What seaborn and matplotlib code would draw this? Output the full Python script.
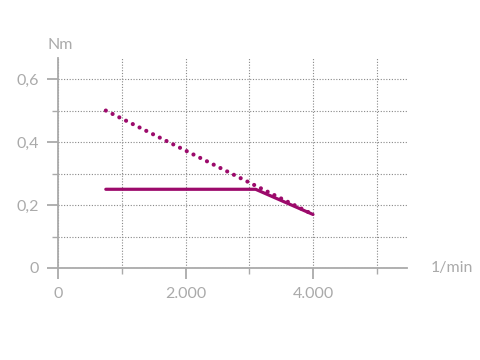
import seaborn as sns
import matplotlib.pyplot as plt
from matplotlib.ticker import MultipleLocator, FuncFormatter

# Kennlinie: Drehmoment über Drehzahl
drehzahl_dauer = [750, 3100, 4000]
moment_dauer = [0.25, 0.25, 0.17]

drehzahl_max = [750, 4000]
moment_max = [0.50, 0.17]

farbe = '#9c0a6b'
grau = '#aaaaaa'

sns.set_style('white')
plt.rcParams['font.family'] = ['Lato', 'DejaVu Sans']

fig = plt.figure(figsize=(4.81, 3.6), dpi=100)
ax = fig.add_axes([0.1206, 0.2556, 0.7256, 0.5833])

sns.lineplot(x=drehzahl_max, y=moment_max, ax=ax, color=farbe, lw=3.0,
             linestyle=(0, (0.01, 1.8)), dash_capstyle='round')
sns.lineplot(x=drehzahl_dauer, y=moment_dauer, ax=ax, color=farbe, lw=2.3)

ax.set_xlim(0, 5475)
ax.set_ylim(0, 0.667)

ax.xaxis.set_major_locator(MultipleLocator(2000))
ax.xaxis.set_minor_locator(MultipleLocator(1000))
ax.yaxis.set_major_locator(MultipleLocator(0.2))
ax.yaxis.set_minor_locator(MultipleLocator(0.1))

ax.xaxis.set_major_formatter(FuncFormatter(lambda v, p: '0' if v == 0 else f'{v:,.0f}'.replace(',', '.')))
ax.yaxis.set_major_formatter(FuncFormatter(lambda v, p: '0' if v == 0 else f'{v:.1f}'.replace('.', ',')))

ax.grid(which='both', color='#888888', linestyle=(0, (1, 1.5)), lw=0.8)
# Gitterlinien bei 0 ausblenden
for gl in ax.get_xgridlines()[:1] + ax.get_ygridlines()[:1]:
    gl.set_visible(False)

for s in ['top', 'right']:
    ax.spines[s].set_visible(False)
for s in ['left', 'bottom']:
    ax.spines[s].set_color(grau)
    ax.spines[s].set_linewidth(1.3)

ax.tick_params(which='major', length=8, width=1.3, color=grau, labelcolor=grau,
               labelsize=11.5, pad=6, direction='out', bottom=True, left=True)
ax.tick_params(which='minor', length=4, width=1, color=grau, direction='out',
               bottom=True, left=True)

ax.set_xlabel('')
ax.set_ylabel('')
fig.text(60 / 481, 1 - 45 / 360, 'Nm', color=grau, fontsize=11.5, ha='center', va='center')
fig.text(452 / 481, 1 - 268 / 360, '1/min', color=grau, fontsize=11.5, ha='center', va='center')

fig.savefig('out.png', dpi=100)
